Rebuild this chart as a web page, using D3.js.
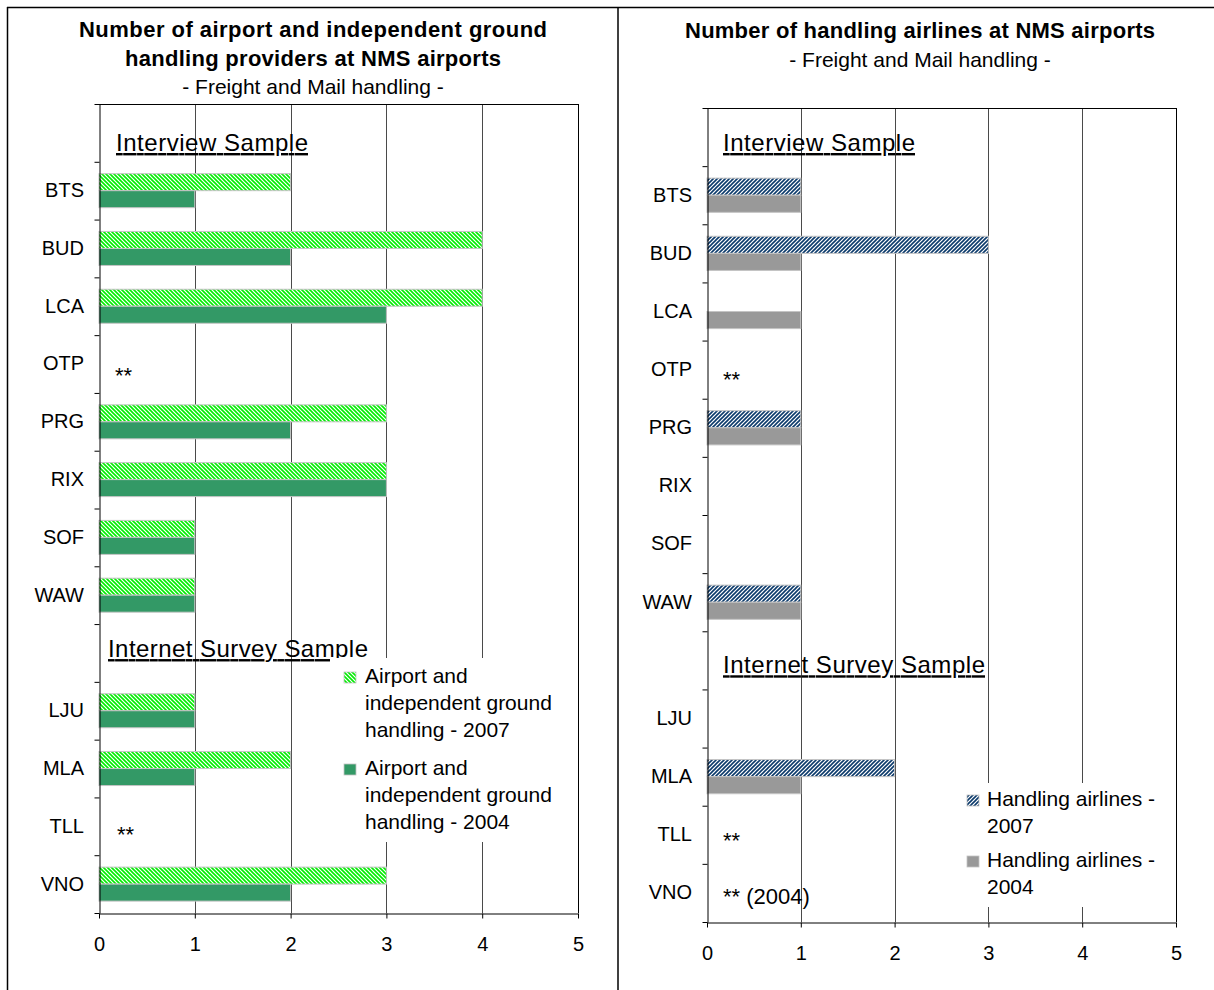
<!DOCTYPE html>
<html>
<head>
<meta charset="utf-8">
<script src="https://cdn.jsdelivr.net/npm/d3@7"></script>
<style>
  body { margin: 0; background: #fff; }
  svg { display: block; font-family: "Liberation Sans", Arial, sans-serif; }
</style>
</head>
<body>
<svg id="chart" width="1214" height="990"></svg>
<script>
// Airports (blank slots hold the section headers)
const categories = ["", "BTS", "BUD", "LCA", "OTP", "PRG", "RIX", "SOF", "WAW", "", "LJU", "MLA", "TLL", "VNO"];
const xTicks = [0, 1, 2, 3, 4, 5];

// Airport and independent ground handling providers
const groundHandling2007 = [null, 2, 4, 4, null, 3, 3, 1, 1, null, 1, 2, null, 3];
const groundHandling2004 = [null, 1, 2, 3, null, 2, 3, 1, 1, null, 1, 1, null, 2];

// Handling airlines
const handlingAirlines2007 = [null, 1, 3, 0, null, 1, 0, 0, 1, null, 0, 2, null, null];
const handlingAirlines2004 = [null, 1, 1, 1, null, 1, 0, 0, 1, null, 0, 1, null, null];

const svg = d3.select("#chart");

// hatch patterns
const defs = svg.append("defs");
function hatch(id, colour, forward) {
  const p = defs.append("pattern").attr("id", id)
    .attr("patternUnits", "userSpaceOnUse").attr("width", 4).attr("height", 4);
  p.append("rect").attr("width", 4).attr("height", 4).attr("fill", "#fff");
  const d = forward
    ? "M-1,1 L1,-1 M-1,5 L5,-1 M3,5 L5,3"
    : "M-1,-1 L5,5 M-1,3 L1,5 M3,-1 L5,1";
  p.append("path").attr("d", d).attr("stroke", colour).attr("stroke-width", 1.6);
}
hatch("hatchGreen", "#00ee00", false);
hatch("hatchBlue", "#0b3a6b", true);

// outer frame
const frame = svg.append("g").attr("stroke", "#000").attr("stroke-width", 1.5);
frame.append("line").attr("x1", 7).attr("x2", 1214).attr("y1", 7.5).attr("y2", 7.5);
frame.append("line").attr("x1", 7.5).attr("x2", 7.5).attr("y1", 7).attr("y2", 990);
frame.append("line").attr("x1", 618).attr("x2", 618).attr("y1", 7).attr("y2", 990);

const panels = [
  {
    left: 99, right: 578, top: 104, bottom: 913, cx: 313,
    titles: [
      { text: "Number of airport and independent ground", y: 37, len: 468 },
      { text: "handling providers at NMS airports", y: 66, len: 376 }
    ],
    subtitle: { text: "- Freight and Mail handling -", y: 94 },
    series: [
      { key: "2007", values: groundHandling2007, fill: "url(#hatchGreen)",
        label: ["Airport and", "independent ground", "handling - 2007"] },
      { key: "2004", values: groundHandling2004, fill: "#339966",
        label: ["Airport and", "independent ground", "handling - 2004"] }
    ],
    legend: { box: [330, 658, 576, 842], iconX: 344, textX: 365, firstBaseline: 683, lineGap: 27, entryGap: 92 },
    headers: [
      { text: "Interview Sample", slot: 0, dx: 17, dy: 47, len: 192 },
      { text: "Internet Survey Sample", slot: 9, dx: 9, dy: 33, len: 260 }
    ],
    notes: [
      { text: "**", slot: 4, dx: 16, dy: 19 },
      { text: "**", slot: 12, dx: 18, dy: 16 }
    ]
  },
  {
    left: 707, right: 1176, top: 108, bottom: 922, cx: 920,
    titles: [
      { text: "Number of handling airlines at NMS airports", y: 38, len: 470 }
    ],
    subtitle: { text: "- Freight and Mail handling -", y: 67 },
    series: [
      { key: "2007", values: handlingAirlines2007, fill: "url(#hatchBlue)",
        label: ["Handling airlines -", "2007"] },
      { key: "2004", values: handlingAirlines2004, fill: "#999999",
        label: ["Handling airlines -", "2004"] }
    ],
    legend: { box: [955, 783, 1175, 907], iconX: 967, textX: 987, firstBaseline: 806, lineGap: 27, entryGap: 61 },
    headers: [
      { text: "Interview Sample", slot: 0, dx: 16, dy: 43, len: 192 },
      { text: "Internet Survey Sample", slot: 9, dx: 16, dy: 42, len: 262 }
    ],
    notes: [
      { text: "**", slot: 4, dx: 16, dy: 17 },
      { text: "**", slot: 12, dx: 16, dy: 13 },
      { text: "** (2004)", slot: 13, dx: 16, dy: 11 }
    ]
  }
];

panels.forEach(cfg => {
  const idx = d3.range(categories.length);
  const x = d3.scaleLinear().domain([0, 5]).range([cfg.left, cfg.right]);
  const y = d3.scaleBand().domain(idx).range([cfg.top, cfg.bottom]);
  const slots = d3.scaleLinear().domain([0, categories.length]).range([cfg.top, cfg.bottom]);
  const ySub = d3.scaleBand().domain(cfg.series.map(s => s.key))
    .range([0, y.bandwidth()]).paddingInner(0).paddingOuter(0.7);

  const g = svg.append("g");

  // titles
  cfg.titles.forEach(t => {
    g.append("text").attr("x", cfg.cx).attr("y", t.y)
      .attr("text-anchor", "middle").attr("font-weight", "bold").attr("font-size", 22)
      .attr("textLength", t.len).attr("lengthAdjust", "spacing")
      .text(t.text);
  });
  g.append("text").attr("x", cfg.cx).attr("y", cfg.subtitle.y)
    .attr("text-anchor", "middle").attr("font-size", 21)
    .text(cfg.subtitle.text);

  // vertical gridlines
  g.append("g").selectAll("line").data(xTicks.filter(d => d > 0)).join("line")
    .attr("x1", d => Math.round(x(d)) + 0.5).attr("x2", d => Math.round(x(d)) + 0.5)
    .attr("y1", cfg.top).attr("y2", cfg.bottom)
    .attr("stroke", d => d === 5 ? "#000" : "#4a4a4a");
  g.append("line")
    .attr("x1", x(0)).attr("x2", Math.round(x(5)) + 1)
    .attr("y1", cfg.top + 0.5).attr("y2", cfg.top + 0.5).attr("stroke", "#000");

  // bars
  cfg.series.forEach(s => {
    g.append("g").selectAll("rect")
      .data(idx.filter(i => s.values[i] > 0)).join("rect")
      .attr("x", x(0))
      .attr("y", i => y(i) + ySub(s.key))
      .attr("width", i => x(s.values[i]) - x(0))
      .attr("height", ySub.bandwidth())
      .attr("fill", s.fill)
      .attr("stroke", "#c4c4c4").attr("stroke-width", 1);
  });

  // section headers
  cfg.headers.forEach(h => {
    g.append("text").attr("x", x(0) + h.dx).attr("y", y(h.slot) + h.dy)
      .attr("font-size", 24)
      .style("text-decoration", "underline")
      .attr("textLength", h.len).attr("lengthAdjust", "spacing")
      .text(h.text);
  });

  // missing-data notes
  cfg.notes.forEach(n => {
    g.append("text").attr("x", x(0) + n.dx).attr("y", y(n.slot) + y.bandwidth() / 2 + n.dy)
      .attr("font-size", 22).text(n.text);
  });

  // legend
  const L = cfg.legend;
  g.append("rect").attr("x", L.box[0]).attr("y", L.box[1])
    .attr("width", L.box[2] - L.box[0]).attr("height", L.box[3] - L.box[1])
    .attr("fill", "#fff");
  cfg.series.forEach((s, k) => {
    const base = L.firstBaseline + k * L.entryGap;
    g.append("rect").attr("x", L.iconX).attr("y", base - 11)
      .attr("width", 12).attr("height", 11)
      .attr("fill", s.fill).attr("stroke", "#c4c4c4").attr("stroke-width", 0.8);
    const t = g.append("text").attr("x", L.textX).attr("y", base).attr("font-size", 21);
    s.label.forEach((line, j) => {
      t.append("tspan").attr("x", L.textX).attr("y", base + j * L.lineGap).text(line);
    });
  });

  // category labels
  g.append("g").attr("transform", `translate(${x(0)},0)`)
    .call(d3.axisLeft(y).tickFormat(i => categories[i]).tickSize(0).tickPadding(15))
    .call(a => a.select(".domain").remove())
    .call(a => a.selectAll("text").attr("font-size", 20))
    .attr("font-family", null).attr("font-size", null);

  // slot boundary ticks and vertical axis line
  g.append("g").attr("transform", `translate(${Math.round(x(0)) + 0.5},0)`)
    .call(d3.axisLeft(slots).tickValues(d3.range(categories.length + 1))
      .tickFormat("").tickSize(5).tickSizeOuter(0))
    .attr("font-family", null).attr("font-size", null);

  // value axis
  g.append("g").attr("transform", `translate(0,${Math.round(cfg.bottom) + 0.5})`)
    .call(d3.axisBottom(x).tickValues(xTicks).tickFormat(d3.format("d"))
      .tickSize(5).tickSizeOuter(0).tickPadding(18))
    .call(a => a.selectAll("text").attr("font-size", 20))
    .attr("font-family", null).attr("font-size", null);
});
</script>
</body>
</html>
